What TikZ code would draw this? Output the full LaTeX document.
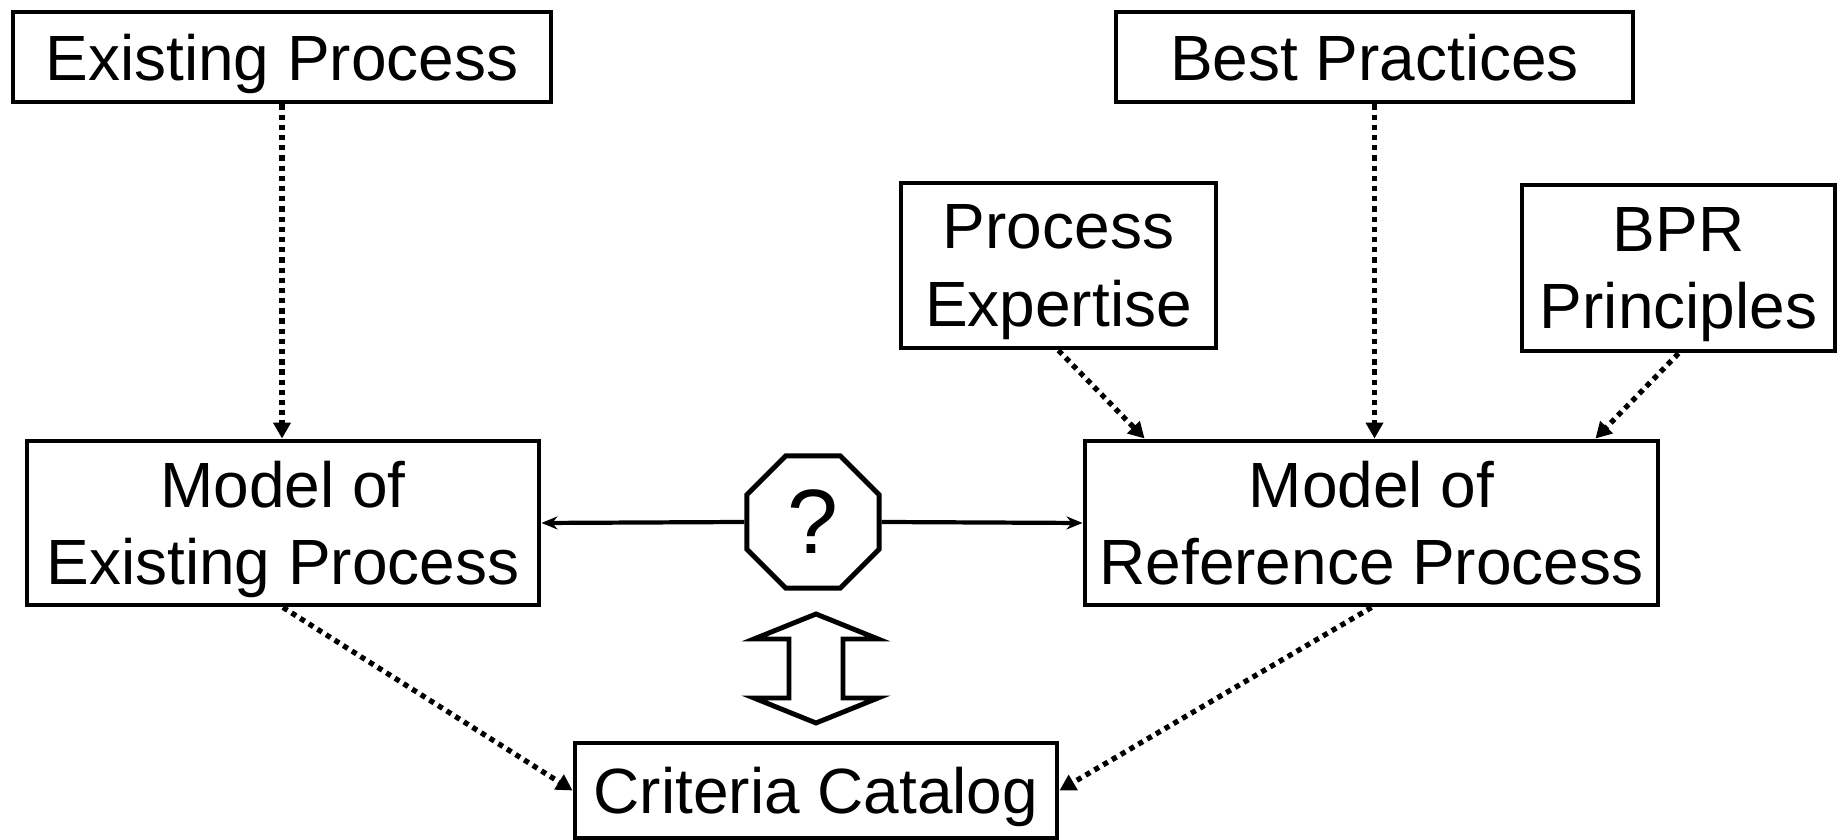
\documentclass[tikz,border=0pt]{standalone}
\usepackage{fontspec}
\setmainfont{Liberation Sans}
\usetikzlibrary{
    arrows.meta,
    shapes.geometric,
    positioning,
    calc
}
\tikzstyle{box} = [
    rectangle,
    draw=black,
    line width=1.4pt,
    align=center,
    inner sep=0pt,
    text depth=0pt,
    font=\fontsize{18.2}{22}\selectfont
]
\tikzstyle{stopsign} = [
    regular polygon,
    regular polygon sides=8,
    draw=black,
    line width=1.4pt,
    minimum size=1.43cm,
    inner sep=0pt,
    font=\fontsize{26}{26}\selectfont
]
\tikzstyle{feed} = [
    -{Triangle[length=0.16cm,width=0.17cm]},
    line width=1.5pt,
    dash pattern=on 1.5pt off 1.4pt
]
\tikzstyle{link} = [
    -{Stealth[length=0.16cm,width=0.13cm]},
    line width=1.2pt
]

\begin{document}
\begin{tikzpicture}
        \useasboundingbox (0,0) rectangle (18.38,8.4);

        % Sources
        \node[box, minimum width=5.38cm, minimum height=0.90cm] (existing) at (2.82,7.83) {Existing Process};
        \node[box, minimum width=5.17cm, minimum height=0.90cm] (practices) at (13.745,7.83) {Best Practices};
        \node[box, minimum width=3.15cm, minimum height=1.65cm] (expertise) at (10.585,5.745) {Process\\Expertise};
        \node[box, minimum width=3.13cm, minimum height=1.66cm] (bpr) at (16.785,5.72) {BPR\\Principles};

        % Models
        \node[box, minimum width=5.12cm, minimum height=1.64cm] (modelex) at (2.83,3.17) {Model of\\Existing Process};
        \node[box, minimum width=5.73cm, minimum height=1.64cm] (modelref) at (13.715,3.17) {Model of\\Reference Process};

        % Comparison
        \node[stopsign] (compare) at (8.13,3.18) {?};
        \node[box, minimum width=4.82cm, minimum height=0.95cm] (catalog) at (8.16,0.495) {Criteria Catalog};

        % Two-headed block arrow
        \coordinate (mid) at (8.16,1.715);
        \draw[line width=1.4pt, line join=miter] ($(mid)+(0,0.545)$) -- ++(0.62,-0.25) -- ++(-0.35,0)
            -- ++(0,-0.59) -- ++(0.35,0) -- ++(-0.62,-0.25) -- ++(-0.62,0.25) -- ++(0.35,0)
            -- ++(0,0.59) -- ++(-0.35,0) -- cycle;

        % Arrows
        \draw[feed] (existing.south) -- (existing.south |- modelex.north);
        \draw[feed] (practices.south) -- (practices.south |- modelref.north);
        \draw[feed] (expertise.south) -- ($(modelref.north west)+(0.62,0)$);
        \draw[feed] (bpr.south) -- ($(modelref.north east)+(-0.65,0)$);
        \draw[feed] (modelex.south) -- (catalog.west);
        \draw[feed] (modelref.south) -- (catalog.east);
        \draw[link] (compare.west) -- (modelex.east);
        \draw[link] (compare.east) -- (modelref.west);
    \end{tikzpicture}
\end{document}
